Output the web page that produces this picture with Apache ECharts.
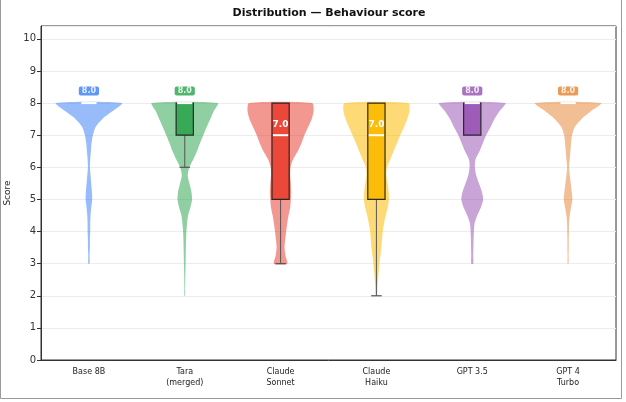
<!DOCTYPE html>
<html>
<head>
<meta charset="utf-8">
<script src="https://cdn.jsdelivr.net/npm/echarts@6/dist/echarts.min.js"></script>
<style>
  html, body { margin: 0; padding: 0; background: #fff; }
  #chart { width: 626px; height: 402px; }
</style>
</head>
<body>
<div id="chart"></div>
<script>
// models on the x axis
var categories = ['Base 8B', 'Tara\n(merged)', 'Claude\nSonnet', 'Claude\nHaiku', 'GPT 3.5', 'GPT 4\nTurbo'];
var colors = ['#4285F4', '#34A853', '#EA4335', '#FBBC04', '#9B59B6', '#E8893A'];
var yTicks = [0, 1, 2, 3, 4, 5, 6, 7, 8, 9, 10];

// box stats
var medians = [8, 8, 7, 7, 8, 8];
var q1 = [8, 7, 5, 5, 7, 8];
var q3 = [8, 8, 8, 8, 8, 8];
var whiskerLow = [8, 6, 3, 2, 7, 8];
var whiskerHigh = [8, 8, 8, 8, 8, 8];

// score levels where the violin width was read
var scoreGrid = [2, 2.25, 2.5, 2.75, 3, 3.25, 3.5, 3.75, 4, 4.25, 4.5, 4.75, 5,
                 5.25, 5.5, 5.75, 6, 6.25, 6.5, 6.75, 7, 7.25, 7.5, 7.75, 8];

// relative violin width (1 = widest) at each score level, null = outside data range
var densBase = [null, null, null, null, 0.02, 0.02, 0.03, 0.03, 0.04, 0.04, 0.05, 0.07, 0.10,
                0.09, 0.07, 0.05, 0.03, 0.04, 0.06, 0.08, 0.12, 0.20, 0.40, 0.72, 1.0];
var densTara = [0.01, 0.012, 0.015, 0.02, 0.025, 0.03, 0.035, 0.04, 0.05, 0.07, 0.10, 0.17, 0.22,
                0.20, 0.14, 0.09, 0.14, 0.26, 0.37, 0.46, 0.56, 0.66, 0.77, 0.88, 1.0];
var densSonnet = [null, null, null, null, 0.20, 0.15, 0.12, 0.14, 0.17, 0.20, 0.24, 0.29, 0.31,
                  0.32, 0.31, 0.29, 0.30, 0.38, 0.52, 0.63, 0.72, 0.83, 0.94, 1.0, 0.95];
var densHaiku = [0.02, 0.03, 0.05, 0.07, 0.09, 0.12, 0.15, 0.17, 0.19, 0.23, 0.28, 0.34, 0.38,
                 0.37, 0.34, 0.30, 0.32, 0.42, 0.52, 0.62, 0.72, 0.83, 0.93, 1.0, 0.96];
var densGpt35 = [null, null, null, null, 0.03, 0.03, 0.035, 0.04, 0.05, 0.07, 0.15, 0.26, 0.33,
                 0.29, 0.20, 0.12, 0.08, 0.10, 0.22, 0.32, 0.42, 0.55, 0.67, 0.83, 1.0];
var densGpt4 = [null, null, null, null, 0.015, 0.015, 0.02, 0.02, 0.025, 0.03, 0.05, 0.09, 0.13,
                0.11, 0.08, 0.05, 0.03, 0.05, 0.07, 0.09, 0.12, 0.20, 0.40, 0.70, 1.0];
var densities = [densBase, densTara, densSonnet, densHaiku, densGpt35, densGpt4];

var font = 'DejaVu Sans';
var violinHalf = 0.345; // share of category band
var boxHalf = 0.09;
var capHalf = 0.055;

var myChart = echarts.init(document.getElementById('chart'));

function renderViolin(params, api) {
  var idx = api.value(0);
  var dens = densities[idx];
  var band = api.size([1, 0])[0];
  var right = [], left = [];
  for (var i = 0; i < scoreGrid.length; i++) {
    if (dens[i] == null) continue;
    var p = api.coord([idx, scoreGrid[i]]);
    var w = dens[i] * violinHalf * band;
    right.push([p[0] + w, p[1]]);
    left.unshift([p[0] - w, p[1]]);
  }
  return {
    type: 'polygon',
    shape: { points: right.concat(left), smooth: 0.25 },
    style: { fill: colors[idx], opacity: 0.55 }
  };
}

function renderBox(params, api) {
  var idx = api.value(0);
  var band = api.size([1, 0])[0];
  var pLow = api.coord([idx, whiskerLow[idx]]);
  var pQ1 = api.coord([idx, q1[idx]]);
  var pQ3 = api.coord([idx, q3[idx]]);
  var pMed = api.coord([idx, medians[idx]]);
  var cx = pMed[0];
  var bw = boxHalf * band, cw = capHalf * band;
  var children = [];
  if (whiskerLow[idx] < q1[idx]) {
    children.push({ type: 'line', shape: { x1: cx, y1: pQ1[1], x2: cx, y2: pLow[1] },
      style: { stroke: '#555', lineWidth: 1 } });
    children.push({ type: 'line', shape: { x1: cx - cw, y1: pLow[1], x2: cx + cw, y2: pLow[1] },
      style: { stroke: '#555', lineWidth: 1.2 } });
  }
  if (q3[idx] > q1[idx]) {
    children.push({ type: 'rect', shape: { x: cx - bw, y: pQ3[1], width: 2 * bw, height: pQ1[1] - pQ3[1] },
      style: { fill: colors[idx], opacity: 0.95, stroke: '#222', lineWidth: 1.2 } });
  }
  children.push({ type: 'line', shape: { x1: cx - bw + 1, y1: pMed[1], x2: cx + bw - 1, y2: pMed[1] },
    style: { stroke: '#fff', lineWidth: 2 } });
  var label = medians[idx].toFixed(1);
  if (medians[idx] >= q3[idx]) {
    children.push({ type: 'text', x: cx, y: pMed[1] - 12,
      style: { text: label, fill: '#fff', font: 'bold 8px ' + font, align: 'center', verticalAlign: 'middle',
        backgroundColor: colors[idx], opacity: 0.85, padding: [1, 3, 0, 3], borderRadius: 2 } });
  } else {
    children.push({ type: 'text', x: cx, y: pMed[1] - 11,
      style: { text: label, fill: '#fff', font: 'bold 9px ' + font, align: 'center', verticalAlign: 'middle' } });
  }
  return { type: 'group', children: children };
}

var seriesIdx = categories.map(function (c, i) { return [i]; });

var option = {
  animation: false,
  backgroundColor: '#fff',
  grid: { left: 41, right: 10, top: 26, bottom: 42, show: true, borderColor: '#333', borderWidth: 1,
    containLabel: false, outerBoundsMode: 'none' },
  graphic: [
    { type: 'text', x: 329, y: 13,
      style: { text: 'Distribution \u2014 Behaviour score', font: 'bold 11px ' + font, fill: '#111',
        align: 'center', verticalAlign: 'middle' } },
    { type: 'polyline', shape: { points: [[0.5, 0], [0.5, 398.5], [621.5, 398.5], [621.5, 0]] },
      style: { stroke: '#999', lineWidth: 1, fill: null } }
  ],
  xAxis: {
    type: 'category',
    data: categories,
    boundaryGap: true,
    axisLine: { lineStyle: { color: '#333' } },
    axisTick: { alignWithLabel: true, length: 4, lineStyle: { color: '#333' } },
    axisLabel: { fontFamily: font, fontSize: 8, color: '#222', margin: 6, lineHeight: 11, interval: 0 },
    splitLine: { show: false }
  },
  yAxis: {
    type: 'value',
    min: 0,
    max: 10.4,
    interval: 1,
    name: 'Score',
    nameLocation: 'middle',
    nameGap: 26,
    nameRotate: 90,
    nameTextStyle: { fontFamily: font, fontSize: 9, color: '#222' },
    axisLine: { show: true, lineStyle: { color: '#333' } },
    axisTick: { show: true, length: 4, lineStyle: { color: '#333' } },
    axisLabel: {
      fontFamily: font, fontSize: 10, color: '#333', margin: 5, showMaxLabel: false,
      formatter: function (v) { return yTicks.indexOf(v) >= 0 ? String(v) : ''; }
    },
    splitLine: { show: true, lineStyle: { color: '#ececec', width: 1 } }
  },
  series: [
    { type: 'custom', name: 'violin', renderItem: renderViolin, data: seriesIdx, encode: { x: 0 }, z: 2 },
    { type: 'custom', name: 'box', renderItem: renderBox, data: seriesIdx, encode: { x: 0 }, z: 3 }
  ]
};

myChart.setOption(option);
</script>
</body>
</html>
